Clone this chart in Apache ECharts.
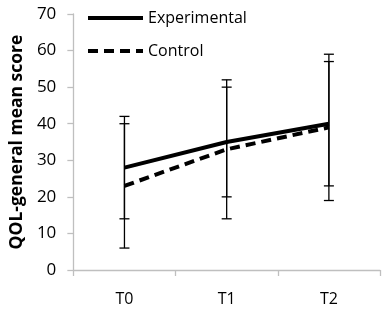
<!DOCTYPE html>
<html><head><meta charset="utf-8">
<script src="https://cdn.jsdelivr.net/npm/echarts@6/dist/echarts.min.js"></script>
<style>html,body{margin:0;padding:0;background:#fff}#c{width:383px;height:313px}</style>
</head><body><div id="c"></div>
<script>
var categories = ['T0', 'T1', 'T2'];
var seriesNames = ['Experimental', 'Control'];
var expMean = [28, 35, 40];
var expLow = [14, 20, 23];
var expHigh = [42, 52, 59];
var ctrlMean = [23, 33, 39];
var ctrlLow = [6, 14, 19];
var ctrlHigh = [40, 50, 57];
var yTicks = [0, 10, 20, 30, 40, 50, 60, 70];

var font = '"Open Sans", "Liberation Sans", sans-serif';
function errData(low, high) {
  return categories.map(function (c, i) { return [i, low[i], high[i]]; });
}
function renderErr(params, api) {
  var x = api.value(0);
  var lo = api.coord([x, api.value(1)]);
  var hi = api.coord([x, api.value(2)]);
  var w = 5;
  var st = { stroke: '#000', lineWidth: 1.3 };
  return { type: 'group', children: [
    { type: 'line', shape: { x1: lo[0], y1: lo[1], x2: hi[0], y2: hi[1] }, style: st },
    { type: 'line', shape: { x1: lo[0] - w, y1: lo[1], x2: lo[0] + w, y2: lo[1] }, style: st },
    { type: 'line', shape: { x1: hi[0] - w, y1: hi[1], x2: hi[0] + w, y2: hi[1] }, style: st }
  ]};
}
var chart = echarts.init(document.getElementById('c'));
chart.setOption({
  animation: false,
  grid: { left: 70, right: 3, top: 14, bottom: 43 },
  legend: {
    orient: 'vertical', left: 81, top: 5, itemGap: 17, itemWidth: 55, itemHeight: 18,
    data: seriesNames,
    itemStyle: { opacity: 0 },
    lineStyle: { width: 4 },
    textStyle: { fontFamily: font, fontSize: 16, color: '#000' }
  },
  xAxis: {
    type: 'category', data: categories, boundaryGap: true,
    axisLine: { lineStyle: { color: '#bfbfbf', width: 1.3 } },
    axisTick: { show: true, length: 6, lineStyle: { color: '#bfbfbf', width: 1.3 } },
    axisLabel: { margin: 21, fontFamily: font, fontSize: 16, color: '#000' }
  },
  yAxis: {
    type: 'value', min: yTicks[0], max: yTicks[yTicks.length - 1], interval: 10,
    name: 'QOL-general mean score', nameLocation: 'middle', nameGap: 47,
    nameTextStyle: { fontFamily: font, fontSize: 17.5, fontWeight: 'bold', color: '#000' },
    splitLine: { show: false },
    axisLine: { show: true, lineStyle: { color: '#bfbfbf', width: 1.3 } },
    axisTick: { show: true, length: 6, lineStyle: { color: '#bfbfbf', width: 1.3 } },
    axisLabel: { margin: 17, fontFamily: font, fontSize: 17, color: '#000' }
  },
  series: [
    { name: seriesNames[0], type: 'line', data: expMean, symbol: 'none', z: 3,
      lineStyle: { color: '#000', width: 4 }, itemStyle: { color: '#000' } },
    { name: seriesNames[1], type: 'line', data: ctrlMean, symbol: 'none', z: 3,
      lineStyle: { color: '#000', width: 4, type: [10, 6] }, itemStyle: { color: '#000' } },
    { type: 'custom', data: errData(expLow, expHigh), renderItem: renderErr, z: 2 },
    { type: 'custom', data: errData(ctrlLow, ctrlHigh), renderItem: renderErr, z: 2 }
  ]
});
</script></body></html>
